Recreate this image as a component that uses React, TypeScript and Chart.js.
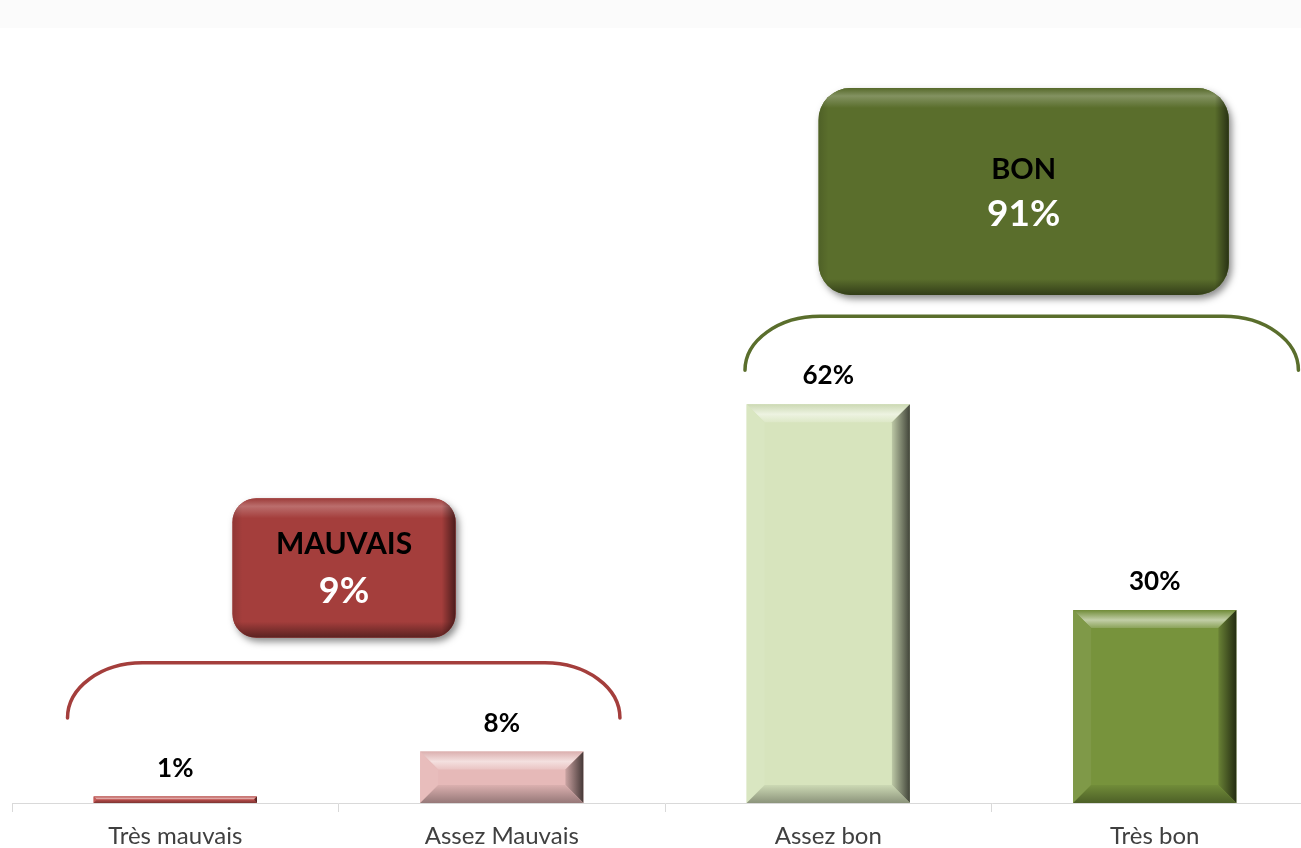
import React, { useEffect, useRef } from "react";
import { Chart, registerables } from "chart.js";

Chart.register(...registerables);

// ---- data ----
const categories = ["Très mauvais", "Assez Mauvais", "Assez bon", "Très bon"];
const values = [1, 8, 62, 30];
const groupNames = ["MAUVAIS", "BON"];
const groupTotals = [9, 91];

// ---- styles ----
const barColors = ["#c0504d", "#e6b9b8", "#d7e4bd", "#77933c"];
const groupColors = ["#a43e3c", "#5a6e2c"];

// ---- annotation layout (in category index / value units) ----
const bracketLayout = [
  { x0: -0.33, x1: 1.362, top: 21.8, end: 13.2 },
  { x0: 1.745, x1: 3.44, top: 75.7, end: 67.3 },
];
const boxLayout = [
  { x0: 0.175, x1: 0.859, top: 47.4, bottom: 25.7, r: 24, nameSize: 30, valSize: 36, nameDy: -14, valDy: 35 },
  { x0: 1.97, x1: 3.227, top: 111.2, bottom: 79.0, r: 32, nameSize: 29, valSize: 37, nameDy: -13, valDy: 34 },
];

function rgb(hex: string) {
  const n = parseInt(hex.slice(1), 16);
  return [(n >> 16) & 255, (n >> 8) & 255, n & 255];
}
function mix(hex: string, target: number, t: number, a = 1) {
  const c = rgb(hex).map((v) => Math.round(v + (target - v) * t));
  return `rgba(${c[0]},${c[1]},${c[2]},${a})`;
}
const lighten = (h: string, t: number) => mix(h, 255, t);
const darken = (h: string, t: number) => mix(h, 0, t);

function poly(ctx: CanvasRenderingContext2D, pts: number[][], fill: any) {
  ctx.beginPath();
  ctx.moveTo(pts[0][0], pts[0][1]);
  for (let i = 1; i < pts.length; i++) ctx.lineTo(pts[i][0], pts[i][1]);
  ctx.closePath();
  ctx.fillStyle = fill;
  ctx.fill();
}

function bevel(ctx: CanvasRenderingContext2D, l: number, t: number, r: number, b: number, color: string) {
  const h = b - t;
  const w = r - l;
  const s = Math.min(18, h / 2, w / 2);
  // top
  const gt = ctx.createLinearGradient(0, t, 0, t + s);
  gt.addColorStop(0, darken(color, 0.05));
  gt.addColorStop(0.55, lighten(color, 0.55));
  gt.addColorStop(1, lighten(color, 0.15));
  poly(ctx, [[l, t], [r, t], [r - s, t + s], [l + s, t + s]], gt);
  // left
  poly(ctx, [[l, t], [l + s, t + s], [l + s, b - s], [l, b]], lighten(color, 0.06));
  // right
  const gr = ctx.createLinearGradient(r - s, 0, r, 0);
  gr.addColorStop(0, darken(color, 0.12));
  gr.addColorStop(1, darken(color, 0.7));
  poly(ctx, [[r, t], [r, b], [r - s, b - s], [r - s, t + s]], gr);
  // bottom
  const gb = ctx.createLinearGradient(0, b - s, 0, b);
  gb.addColorStop(0, darken(color, 0.05));
  gb.addColorStop(1, darken(color, 0.35));
  poly(ctx, [[l, b], [r, b], [r - s, b - s], [l + s, b - s]], gb);
}

const overlay = {
  id: "overlay",
  afterDatasetsDraw(chart: any) {
    const ctx: CanvasRenderingContext2D = chart.ctx;
    const xs = chart.scales.x;
    const ys = chart.scales.y;
    const meta = chart.getDatasetMeta(0);
    const c0 = xs.getPixelForValue(0);
    const cw = xs.getPixelForValue(1) - c0;
    const px = (i: number) => c0 + i * cw;
    const py = (v: number) => ys.getPixelForValue(v);

    ctx.save();
    meta.data.forEach((bar: any, i: number) => {
      const p = bar.getProps(["x", "y", "base", "width"], true);
      const l = p.x - p.width / 2;
      const r = p.x + p.width / 2;
      bevel(ctx, l, p.y, r, p.base, barColors[i]);
      ctx.fillStyle = "#000";
      ctx.font = "bold 26px Lato";
      ctx.textAlign = "center";
      ctx.textBaseline = "alphabetic";
      ctx.fillText(values[i] + "%", p.x, p.y - 20);
    });

    // brackets
    bracketLayout.forEach((bl, gi) => {
      const x0 = px(bl.x0);
      const x1 = px(bl.x1);
      const yt = py(bl.top);
      const ye = py(bl.end);
      const rx = 75;
      const ry = ye - yt;
      ctx.beginPath();
      ctx.ellipse(x0 + rx, ye, rx, ry, 0, Math.PI, 1.5 * Math.PI);
      ctx.lineTo(x1 - rx, yt);
      ctx.ellipse(x1 - rx, ye, rx, ry, 0, 1.5 * Math.PI, 2 * Math.PI);
      ctx.strokeStyle = groupColors[gi];
      ctx.lineWidth = 3.5;
      ctx.lineCap = "round";
      ctx.stroke();
    });

    // boxes
    boxLayout.forEach((bx, gi) => {
      const l = px(bx.x0);
      const r = px(bx.x1);
      const t = py(bx.top);
      const b = py(bx.bottom);
      const w = r - l;
      const h = b - t;
      const col = groupColors[gi];
      ctx.save();
      ctx.shadowColor = "rgba(0,0,0,0.45)";
      ctx.shadowBlur = 7;
      ctx.shadowOffsetX = 3;
      ctx.shadowOffsetY = 4;
      ctx.beginPath();
      ctx.roundRect(l, t, w, h, bx.r);
      ctx.fillStyle = col;
      ctx.fill();
      ctx.restore();

      ctx.save();
      ctx.beginPath();
      ctx.roundRect(l, t, w, h, bx.r);
      ctx.clip();
      const gv = ctx.createLinearGradient(0, t, 0, b);
      gv.addColorStop(0, darken(col, 0.05));
      gv.addColorStop(8 / h, lighten(col, 0.25));
      gv.addColorStop(20 / h, col);
      gv.addColorStop(1 - 16 / h, col);
      gv.addColorStop(1, darken(col, 0.45));
      ctx.fillStyle = gv;
      ctx.fillRect(l, t, w, h);
      const gh = ctx.createLinearGradient(l, 0, r, 0);
      gh.addColorStop(0, "rgba(0,0,0,0.12)");
      gh.addColorStop(10 / w, "rgba(0,0,0,0)");
      gh.addColorStop(1 - 14 / w, "rgba(0,0,0,0)");
      gh.addColorStop(1, "rgba(0,0,0,0.55)");
      ctx.fillStyle = gh;
      ctx.fillRect(l, t, w, h);
      ctx.restore();

      const cx = (l + r) / 2;
      const cy = (t + b) / 2;
      ctx.textAlign = "center";
      ctx.textBaseline = "alphabetic";
      ctx.fillStyle = "#000";
      ctx.font = `bold ${bx.nameSize}px Lato`;
      ctx.fillText(groupNames[gi], cx, cy + bx.nameDy);
      ctx.fillStyle = "#fff";
      ctx.font = `bold ${bx.valSize}px Lato`;
      ctx.fillText(groupTotals[gi] + "%", cx, cy + bx.valDy);
    });
    ctx.restore();
  },
};

export default function App() {
  const ref = useRef<HTMLCanvasElement>(null);
  useEffect(() => {
    if (!ref.current) return;
    const chart = new Chart(ref.current, {
      type: "bar",
      data: {
        labels: categories,
        datasets: [
          {
            data: values,
            backgroundColor: barColors,
            borderWidth: 0,
            categoryPercentage: 1,
            barPercentage: 0.5,
          },
        ],
      },
      options: {
        responsive: false,
        animation: false,
        layout: { padding: { left: 12, right: 2, top: 160, bottom: 0 } },
        plugins: { legend: { display: false }, tooltip: { enabled: false } },
        scales: {
          y: { display: false, min: 0, max: 100 },
          x: {
            afterFit: (scale: any) => {
              scale.height = 45;
            },
            grid: {
              drawOnChartArea: false,
              drawTicks: true,
              tickLength: 9,
              color: "#d9d9d9",
              offset: true,
            },
            border: { color: "#d9d9d9", width: 1 },
            ticks: {
              padding: 10,
              color: "#404040",
              font: { family: "Lato", size: 24 },
            },
          },
        },
      },
      plugins: [overlay],
    });
    return () => chart.destroy();
  }, []);
  return (
    <div
      style={{
        position: "fixed",
        left: 0,
        top: 0,
        width: 1301,
        height: 848,
        overflow: "hidden",
        background: "linear-gradient(#fbfbfb 0px, #fbfbfb 28px, #ffffff 28px)",
      }}
    >
      <canvas ref={ref} width={1320} height={848} style={{ display: "block" }} />
    </div>
  );
}
